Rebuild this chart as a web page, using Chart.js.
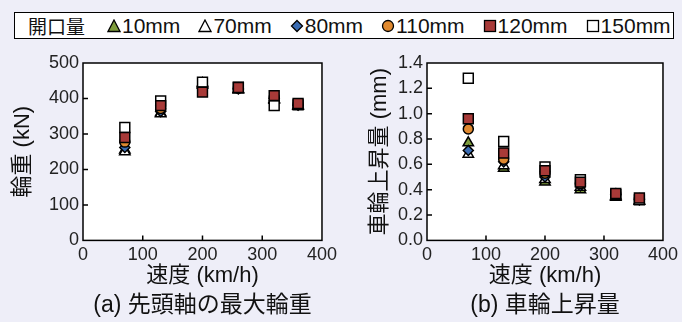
<!DOCTYPE html>
<html>
<head>
<meta charset="utf-8">
<title>開口量と速度</title>
<script src="https://cdn.jsdelivr.net/npm/chart.js@4.4.0/dist/chart.umd.min.js"></script>
<style>
body{margin:0;background:#eeeef8;width:682px;height:322px;overflow:hidden;position:relative;
  font-family:"Liberation Sans","Noto Sans CJK JP",sans-serif;color:#111;}
#legend{position:absolute;left:14px;top:12px;width:658px;height:25px;border:1.5px solid #000;background:#fff;
  display:flex;align-items:center;font-size:21px;white-space:nowrap;}
#legend .head{margin-left:13px;margin-right:4px;font-size:19px;}
#legend .item{display:flex;align-items:center;margin-left:18px;}
#legend svg{margin-right:1px;}
.box{position:absolute;top:45px;width:341px;height:277px;}
</style>
</head>
<body>
<div id="legend"><span class="head">開口量</span></div>
<div class="box" style="left:0"><canvas id="load"></canvas></div>
<div class="box" style="left:341px"><canvas id="rise"></canvas></div>

<script>
var speeds = [70, 130, 200, 260, 320, 360];
var openings = ['10mm', '70mm', '80mm', '110mm', '120mm', '150mm'];

// 先頭軸の最大輪重 (kN)
var load10  = [255, 360, 438, 426, 398, 380];
var load70  = [250, 357, 442, 424, 395, 378];
var load80  = [262, 363, 436, 427, 400, 381];
var load110 = [277, 372, 432, 429, 403, 383];
var load120 = [290, 380, 418, 431, 408, 386];
var load150 = [318, 393, 446, 432, 380, 382];

// 車輪上昇量 (mm)
var rise10  = [0.77, 0.57, 0.46, 0.40, 0.35, 0.31];
var rise70  = [0.68, 0.59, 0.48, 0.42, 0.34, 0.31];
var rise80  = [0.71, 0.62, 0.50, 0.43, 0.36, 0.32];
var rise110 = [0.88, 0.64, 0.53, 0.45, 0.37, 0.33];
var rise120 = [0.96, 0.69, 0.55, 0.46, 0.37, 0.335];
var rise150 = [1.28, 0.78, 0.58, 0.48, 0.36, 0.32];

var loadTicks = [0, 100, 200, 300, 400, 500];
var riseTicks = [0, 0.2, 0.4, 0.6, 0.8, 1.0, 1.2, 1.4];

var shapes = ['triangle', 'triangle', 'rectRot', 'circle', 'rect', 'rect'];
var fills = ['#7e9c3c', '#ffffff', '#3a6cb2', '#e0892f', '#a83a38', '#ffffff'];
var sizes = [6, 6, 5, 5, 7, 7];
var layer = [6, 5, 4, 3, 1, 2];

Chart.defaults.font.family = '"Liberation Sans","Noto Sans CJK JP",sans-serif';
Chart.defaults.color = '#111';

// legend
function markerSvg(i) {
  var s = '<svg width="14" height="14" viewBox="0 0 14 14">';
  var st = 'fill="' + fills[i] + '" stroke="#000" stroke-width="1.3"';
  if (shapes[i] == 'triangle') s += '<polygon points="7,1 13,12.5 1,12.5" ' + st + '/>';
  else if (shapes[i] == 'rectRot') s += '<polygon points="7,1.5 12.5,7 7,12.5 1.5,7" ' + st + '/>';
  else if (shapes[i] == 'circle') s += '<circle cx="7" cy="7" r="5.5" ' + st + '/>';
  else s += '<rect x="1.5" y="1.5" width="11" height="11" ' + st + '/>';
  return s + '</svg>';
}
var lg = document.getElementById('legend');
openings.forEach(function (o, i) {
  var d = document.createElement('span');
  d.className = 'item';
  d.innerHTML = markerSvg(i) + '<span>' + o + '</span>';
  lg.appendChild(d);
});

var framePlugin = {
  id: 'frame',
  beforeDatasetsDraw: function (chart) {
    var a = chart.chartArea, c = chart.ctx;
    c.save();
    c.fillStyle = '#fff';
    c.fillRect(a.left, a.top, a.right - a.left, a.bottom - a.top);
    c.strokeStyle = '#000';
    c.lineWidth = 1.5;
    c.strokeRect(a.left, a.top, a.right - a.left, a.bottom - a.top);
    c.beginPath();
    var xs = chart.scales.x, ys = chart.scales.y;
    xs.ticks.forEach(function (t, k) {
      if (k == 0 || k == xs.ticks.length - 1) return;
      var px = xs.getPixelForValue(t.value);
      c.moveTo(px, a.bottom); c.lineTo(px, a.bottom - 5);
    });
    ys.ticks.forEach(function (t, k) {
      if (k == 0 || k == ys.ticks.length - 1) return;
      var py = ys.getPixelForValue(t.value);
      c.moveTo(a.left, py); c.lineTo(a.left + 5, py);
    });
    c.stroke();
    c.restore();
  }
};

function makeChart(id, series, yTicks, yTitle, caption, yW, yPad, rightPad, dec) {
  var datasets = series.map(function (vals, i) {
    return {
      label: openings[i],
      data: speeds.map(function (s, k) { return {x: s, y: vals[k]}; }),
      pointStyle: shapes[i],
      pointRadius: sizes[i],
      pointHoverRadius: sizes[i],
      backgroundColor: fills[i],
      borderColor: '#000',
      borderWidth: 1.5,
      showLine: false,
      order: layer[i]
    };
  });
  return new Chart(document.getElementById(id), {
    type: 'scatter',
    data: {datasets: datasets},
    plugins: [framePlugin],
    options: {
      responsive: true,
      maintainAspectRatio: false,
      animation: false,
      layout: {padding: {top: 18, right: rightPad, left: 0, bottom: 0}},
      plugins: {
        legend: {display: false},
        tooltip: {enabled: false},
        title: {display: true, position: 'bottom', fullSize: false, text: caption,
          font: {size: 23, weight: 'normal'}, color: '#111', padding: {top: 1, bottom: 3}}
      },
      scales: {
        x: {
          type: 'linear', min: 0, max: 400,
          ticks: {stepSize: 100, font: {size: 18}, padding: 4, color: '#222'},
          grid: {display: false, drawTicks: false},
          border: {display: false},
          title: {display: true, text: '速度 (km/h)', font: {size: 22}, padding: {top: 0, bottom: 1}},
          afterFit: function (s) { s.height = 50; }
        },
        y: {
          type: 'linear', min: yTicks[0], max: yTicks[yTicks.length - 1],
          afterBuildTicks: function (s) { s.ticks = yTicks.map(function (v) { return {value: v}; }); },
          ticks: {font: {size: 18}, padding: 4, color: '#222',
            callback: function (v) { return dec ? v.toFixed(1) : v; }},
          grid: {display: false, drawTicks: false},
          border: {display: false},
          title: {display: true, text: yTitle, font: {size: 22}, padding: {top: yPad, bottom: 0}},
          afterFit: function (s) { s.width = yW; }
        }
      }
    }
  });
}

makeChart('load', [load10, load70, load80, load110, load120, load150], loadTicks,
  '輪重 (kN)', '(a) 先頭軸の最大輪重', 83, 10, 18, false);
makeChart('rise', [rise10, rise70, rise80, rise110, rise120, rise150], riseTicks,
  '車輪上昇量 (mm)', '(b) 車輪上昇量', 86, 26, 15, true);
</script>
</body>
</html>
